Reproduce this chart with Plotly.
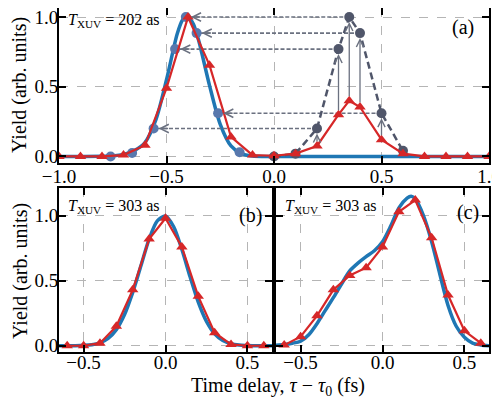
import plotly.graph_objects as go

# ---------------- data ----------------
# Panel (a)
a_curve_x = [-1.0, -0.9, -0.8, -0.75, -0.70, -0.65, -0.60, -0.55, -0.50, -0.45, -0.425, -0.41,
             -0.395, -0.375, -0.35, -0.30, -0.25, -0.20, -0.15, -0.10, -0.05, 0.0, 0.5, 1.0]
a_curve_y = [0.0, 0.0, 0.001, 0.004, 0.015, 0.042, 0.10, 0.26, 0.55, 0.88, 0.98, 1.0,
             0.99, 0.95, 0.83, 0.51, 0.23, 0.075, 0.018, 0.003, 0.0, 0.0, 0.0, 0.0]

a_red_x = [-1.0, -0.9, -0.8, -0.7, -0.6, -0.5, -0.4, -0.3, -0.2, -0.1, 0.0, 0.1, 0.2, 0.3,
           0.35, 0.4, 0.5, 0.6, 0.7, 0.8, 0.9, 1.0]
a_red_y = [0.0, 0.0, 0.0, 0.01, 0.08, 0.49, 1.0, 0.655, 0.14, 0.01, 0.005, 0.02, 0.075, 0.30,
           0.40, 0.355, 0.12, 0.02, 0.0, 0.0, 0.0, 0.0]

a_gray_x = [0.0, 0.1, 0.2, 0.3, 0.35, 0.4, 0.5, 0.6]
a_gray_y = [0.0, 0.02, 0.2, 0.77, 1.0, 0.885, 0.31, 0.04]

a_shift_x = [-0.76, -0.66, -0.56, -0.46, -0.41, -0.36, -0.26, -0.16]
a_shift_y = [0.0, 0.025, 0.2, 0.77, 1.0, 0.885, 0.31, 0.03]

# arrows
h_arrow_idx = [2, 3, 4, 5, 6]      # horizontal arrows gray -> shifted
v_arrow_x = [0.2, 0.3, 0.35, 0.4, 0.5]
v_arrow_from = [0.075, 0.30, 0.40, 0.355, 0.12]
v_arrow_to = [0.2, 0.77, 1.0, 0.885, 0.31]

# Panel (b)
b_curve_x = [-0.65, -0.6, -0.55, -0.5, -0.45, -0.40, -0.35, -0.30, -0.25, -0.20, -0.15, -0.10,
             -0.05, 0.0, 0.05, 0.10, 0.15, 0.20, 0.25, 0.30, 0.35, 0.40, 0.45, 0.5, 0.55, 0.6, 0.65]
b_curve_y = [0.0, 0.0, 0.001, 0.003, 0.008, 0.023, 0.057, 0.124, 0.24, 0.41, 0.615, 0.82,
             0.96, 0.998, 0.915, 0.74, 0.53, 0.335, 0.187, 0.092, 0.04, 0.015, 0.005, 0.002, 0.0, 0.0, 0.0]
b_red_x = [-0.6, -0.5, -0.4, -0.3, -0.2, -0.1, 0.0, 0.1, 0.2, 0.3, 0.4, 0.5, 0.6]
b_red_y = [0.0, 0.0, 0.02, 0.15, 0.43, 0.82, 0.98, 0.76, 0.38, 0.10, 0.01, 0.0, 0.0]

# Panel (c)
c_curve_x = [-0.65, -0.6, -0.55, -0.5, -0.45, -0.40, -0.35, -0.30, -0.25, -0.20, -0.15, -0.10,
             -0.05, 0.0, 0.05, 0.10, 0.15, 0.175, 0.20, 0.25, 0.30, 0.35, 0.40, 0.45, 0.5, 0.55, 0.6, 0.65]
c_curve_y = [0.003, 0.01, 0.02, 0.035, 0.085, 0.17, 0.27, 0.37, 0.475, 0.575, 0.635, 0.685,
             0.73, 0.80, 0.92, 1.06, 1.135, 1.15, 1.13, 1.0, 0.80, 0.55, 0.31, 0.15, 0.065, 0.02, 0.006, 0.0]
c_red_x = [-0.6, -0.5, -0.4, -0.3, -0.2, -0.1, 0.0, 0.1, 0.2, 0.3, 0.4, 0.5, 0.6]
c_red_y = [0.005, 0.07, 0.23, 0.43, 0.54, 0.60, 0.76, 1.03, 1.12, 0.83, 0.39, 0.115, 0.02]

x_ticks_a = [-1.0, -0.5, 0.0, 0.5, 1.0]
x_ticklabels_a = ["\u22121.0", "\u22120.5", "0.0", "0.5", "1.0"]
x_ticks_bc = [-0.5, 0.0, 0.5]
x_ticklabels_bc = ["\u22120.5", "0.0", "0.5"]
y_ticks = [0.0, 0.5, 1.0]
y_ticklabels = ["0.0", "0.5", "1.0"]

# ---------------- style / layout ----------------
BLUE = "#1f77b4"
RED = "#d62728"
GRAY = "#50566a"
ARROW = "#6b7180"
SHIFT = "#5878ad"
FONT = "Liberation Serif"

W, H = 492, 390   # page body has an 8px margin; the window shows 492x390 of the figure
OFF = 8


def px(s):
    return (s - OFF) / W


def py(s):
    return 1 - (s - OFF) / H


fig = go.Figure()

# Panel (a)
fig.add_trace(go.Scatter(x=a_curve_x, y=a_curve_y, mode="lines", line=dict(color=BLUE, width=3.5, shape="spline", smoothing=0.8),
                         xaxis="x", yaxis="y", showlegend=False))
hx, hy = [], []
for i in h_arrow_idx:
    hx += [a_gray_x[i], a_shift_x[i], None]
    hy += [a_gray_y[i], a_shift_y[i], None]
fig.add_trace(go.Scatter(x=hx, y=hy, mode="lines", line=dict(color=ARROW, width=1.6, dash="4px,2px"),
                         xaxis="x", yaxis="y", showlegend=False))
fig.add_trace(go.Scatter(x=a_shift_x, y=a_shift_y, mode="markers", marker=dict(color=SHIFT, size=10, symbol="circle"),
                         xaxis="x", yaxis="y", showlegend=False))
fig.add_trace(go.Scatter(x=a_gray_x, y=a_gray_y, mode="lines+markers",
                         line=dict(color=GRAY, width=2.5, dash="7px,4px"),
                         marker=dict(color=GRAY, size=10, symbol="circle"),
                         xaxis="x", yaxis="y", showlegend=False))
fig.add_trace(go.Scatter(x=a_red_x, y=a_red_y, mode="lines+markers", line=dict(color=RED, width=2.2),
                         marker=dict(color=RED, size=10, symbol="triangle-up"),
                         xaxis="x", yaxis="y", showlegend=False))

# Panel (b)
fig.add_trace(go.Scatter(x=b_curve_x, y=b_curve_y, mode="lines", line=dict(color=BLUE, width=3.5, shape="spline", smoothing=0.8),
                         xaxis="x2", yaxis="y2", showlegend=False))
fig.add_trace(go.Scatter(x=b_red_x, y=b_red_y, mode="lines+markers", line=dict(color=RED, width=2.2),
                         marker=dict(color=RED, size=10, symbol="triangle-up"),
                         xaxis="x2", yaxis="y2", showlegend=False))
# Panel (c)
fig.add_trace(go.Scatter(x=c_curve_x, y=c_curve_y, mode="lines", line=dict(color=BLUE, width=3.5, shape="spline", smoothing=0.8),
                         xaxis="x3", yaxis="y3", showlegend=False))
fig.add_trace(go.Scatter(x=c_red_x, y=c_red_y, mode="lines+markers", line=dict(color=RED, width=2.2),
                         marker=dict(color=RED, size=10, symbol="triangle-up"),
                         xaxis="x3", yaxis="y3", showlegend=False))

annotations = []
# horizontal arrowheads
for i in h_arrow_idx:
    annotations.append(dict(x=a_shift_x[i], y=a_shift_y[i], xref="x", yref="y", ax=16, ay=0,
                            showarrow=True, arrowhead=5, arrowsize=1.1, arrowwidth=1.5,
                            arrowcolor=ARROW, standoff=5, text=""))
# vertical arrows
for vx, vf, vt in zip(v_arrow_x, v_arrow_from, v_arrow_to):
    annotations.append(dict(x=vx, y=vt, xref="x", yref="y", axref="x", ayref="y", ax=vx, ay=vf,
                            showarrow=True, arrowhead=5, arrowsize=1.1, arrowwidth=1.3,
                            arrowcolor=ARROW, standoff=5, startstandoff=3, text=""))

tfont = dict(family=FONT, size=16, color="black")
lfont = dict(family=FONT, size=20, color="black")


def label(x, y, text, font, xanchor="center", angle=0):
    return dict(x=x, y=y, xref="paper", yref="paper", xanchor=xanchor, yanchor="middle",
                showarrow=False, text=text, font=font, textangle=angle)


annotations += [
    label(px(66), py(20), "<i>T</i><sub>XUV</sub> = 202 as", tfont, "left"),
    label(px(463), py(27), "(a)", lfont),
    label(px(66), py(206), "<i>T</i><sub>XUV</sub> = 303 as", tfont, "left"),
    label(px(250), py(215), "(b)", lfont),
    label(px(283), py(206), "<i>T</i><sub>XUV</sub> = 303 as", tfont, "left"),
    label(px(468), py(212), "(c)", lfont),
    label(px(20), py(85), "Yield (arb. units)", lfont, angle=-90),
    label(px(20), py(271), "Yield (arb. units)", lfont, angle=-90),
    label(px(278), py(386), "Time delay, <i>τ</i> − <i>τ</i><sub>0</sub> (fs)", lfont),
]

axis_common = dict(showline=True, linecolor="black", linewidth=1.8, mirror="ticks", ticks="inside",
                   ticklen=7, tickwidth=1.5, tickcolor="black", showgrid=True, gridcolor="#b5b5b5",
                   griddash="dash", gridwidth=1, zeroline=False, automargin=False,
                   ticklabeloverflow="allow",
                   tickfont=dict(family=FONT, size=19, color="black"))
xtop = dict(axis_common, ticklabelstandoff=-5)
xbottom = dict(axis_common, ticklabelstandoff=-8)
ycommon = dict(axis_common, ticklabelstandoff=-5)

fig.update_layout(
    width=W, height=H, margin=dict(l=0, r=0, t=0, b=0, autoexpand=False),
    paper_bgcolor="white", plot_bgcolor="white",
    xaxis=dict(domain=[px(59), px(489)], range=[-1.0, 1.0], tickvals=x_ticks_a, ticktext=x_ticklabels_a,
               anchor="y", **xtop),
    yaxis=dict(domain=[py(163), 1.0], range=[-0.047, 1.065], tickvals=y_ticks, ticktext=y_ticklabels,
               anchor="x", **ycommon),
    xaxis2=dict(domain=[px(59), px(272)], range=[-0.65, 0.65], tickvals=x_ticks_bc, ticktext=x_ticklabels_bc,
                anchor="y2", **xbottom),
    yaxis2=dict(domain=[py(352), py(188)], range=[-0.048, 1.213], tickvals=y_ticks, ticktext=y_ticklabels,
                anchor="x2", **ycommon),
    xaxis3=dict(domain=[px(276), px(489)], range=[-0.65, 0.65], tickvals=x_ticks_bc, ticktext=x_ticklabels_bc,
                anchor="y3", **xbottom),
    yaxis3=dict(domain=[py(352), py(188)], range=[-0.048, 1.213], tickvals=y_ticks, ticktext=y_ticklabels,
                anchor="x3", showticklabels=False, **ycommon),
    annotations=annotations,
)

fig.write_html("out.html")
